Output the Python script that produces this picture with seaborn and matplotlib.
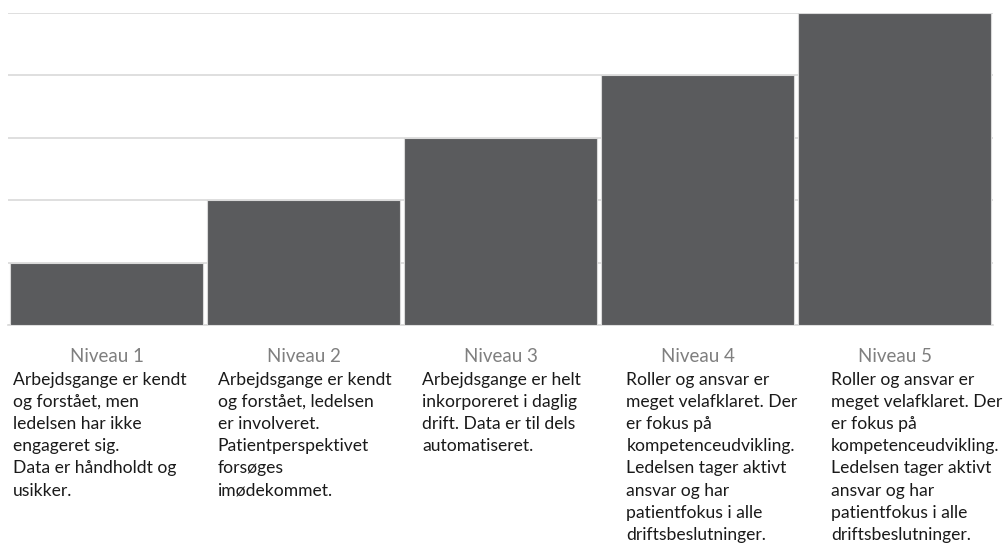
import matplotlib
matplotlib.use("Agg")
import matplotlib.pyplot as plt
import seaborn as sns
import pandas as pd

# Data
niveauer = ["Niveau 1", "Niveau 2", "Niveau 3", "Niveau 4", "Niveau 5"]
vaerdier = [1, 2, 3, 4, 5]
beskrivelser = [
    "Arbejdsgange er kendt\nog forstået, men\nledelsen har ikke\nengageret sig.\nData er håndholdt og\nusikker.",
    "Arbejdsgange er kendt\nog forstået, ledelsen\ner involveret.\nPatientperspektivet\nforsøges\nimødekommet.",
    "Arbejdsgange er helt\ninkorporeret i daglig\ndrift. Data er til dels\nautomatiseret.",
    "Roller og ansvar er\nmeget velafklaret. Der\ner fokus på\nkompetenceudvikling.\nLedelsen tager aktivt\nansvar og har\npatientfokus i alle\ndriftsbeslutninger.",
    "Roller og ansvar er\nmeget velafklaret. Der\ner fokus på\nkompetenceudvikling.\nLedelsen tager aktivt\nansvar og har\npatientfokus i alle\ndriftsbeslutninger.",
]

df = pd.DataFrame({"Niveau": niveauer, "Vaerdi": vaerdier})

sns.set_style("white")
plt.rcParams['font.family'] = ['Lato', 'DejaVu Sans']

fig = plt.figure(figsize=(10.06, 5.45), dpi=100)
ax = fig.add_axes([8 / 1006, 220 / 545, 985 / 1006, 312 / 545])

sns.barplot(data=df, x="Niveau", y="Vaerdi", color="#5a5b5d", width=0.98,
            edgecolor="#d9d9d9", linewidth=0.8, saturation=1, ax=ax, zorder=3)

ax.set_xlim(-0.5, 4.5)
ax.set_ylim(0, 5)
ax.set_yticks([0, 1, 2, 3, 4, 5])
ax.yaxis.grid(True, color="#d9d9d9", linewidth=1.2, zorder=0)
ax.set_axisbelow(True)
ax.tick_params(axis="y", left=False, labelleft=False)
ax.tick_params(axis="x", bottom=False, pad=13, labelsize=13.5, labelcolor="#7f7f7f")
ax.set_xlabel("")
ax.set_ylabel("")
for side in ["left", "right", "top"]:
    ax.spines[side].set_visible(False)
ax.spines["bottom"].set_color("#d9d9d9")
ax.spines["bottom"].set_linewidth(1.2)

# beskrivende tekst under hvert niveau
for i, txt in enumerate(beskrivelser):
    fig.text((13 + i * 204.5) / 1006, 1 - 372 / 545, txt, ha="left", va="top",
             fontsize=12.6, color="#1a1a1a", linespacing=1.47)

fig.savefig("out.png", dpi=100)
